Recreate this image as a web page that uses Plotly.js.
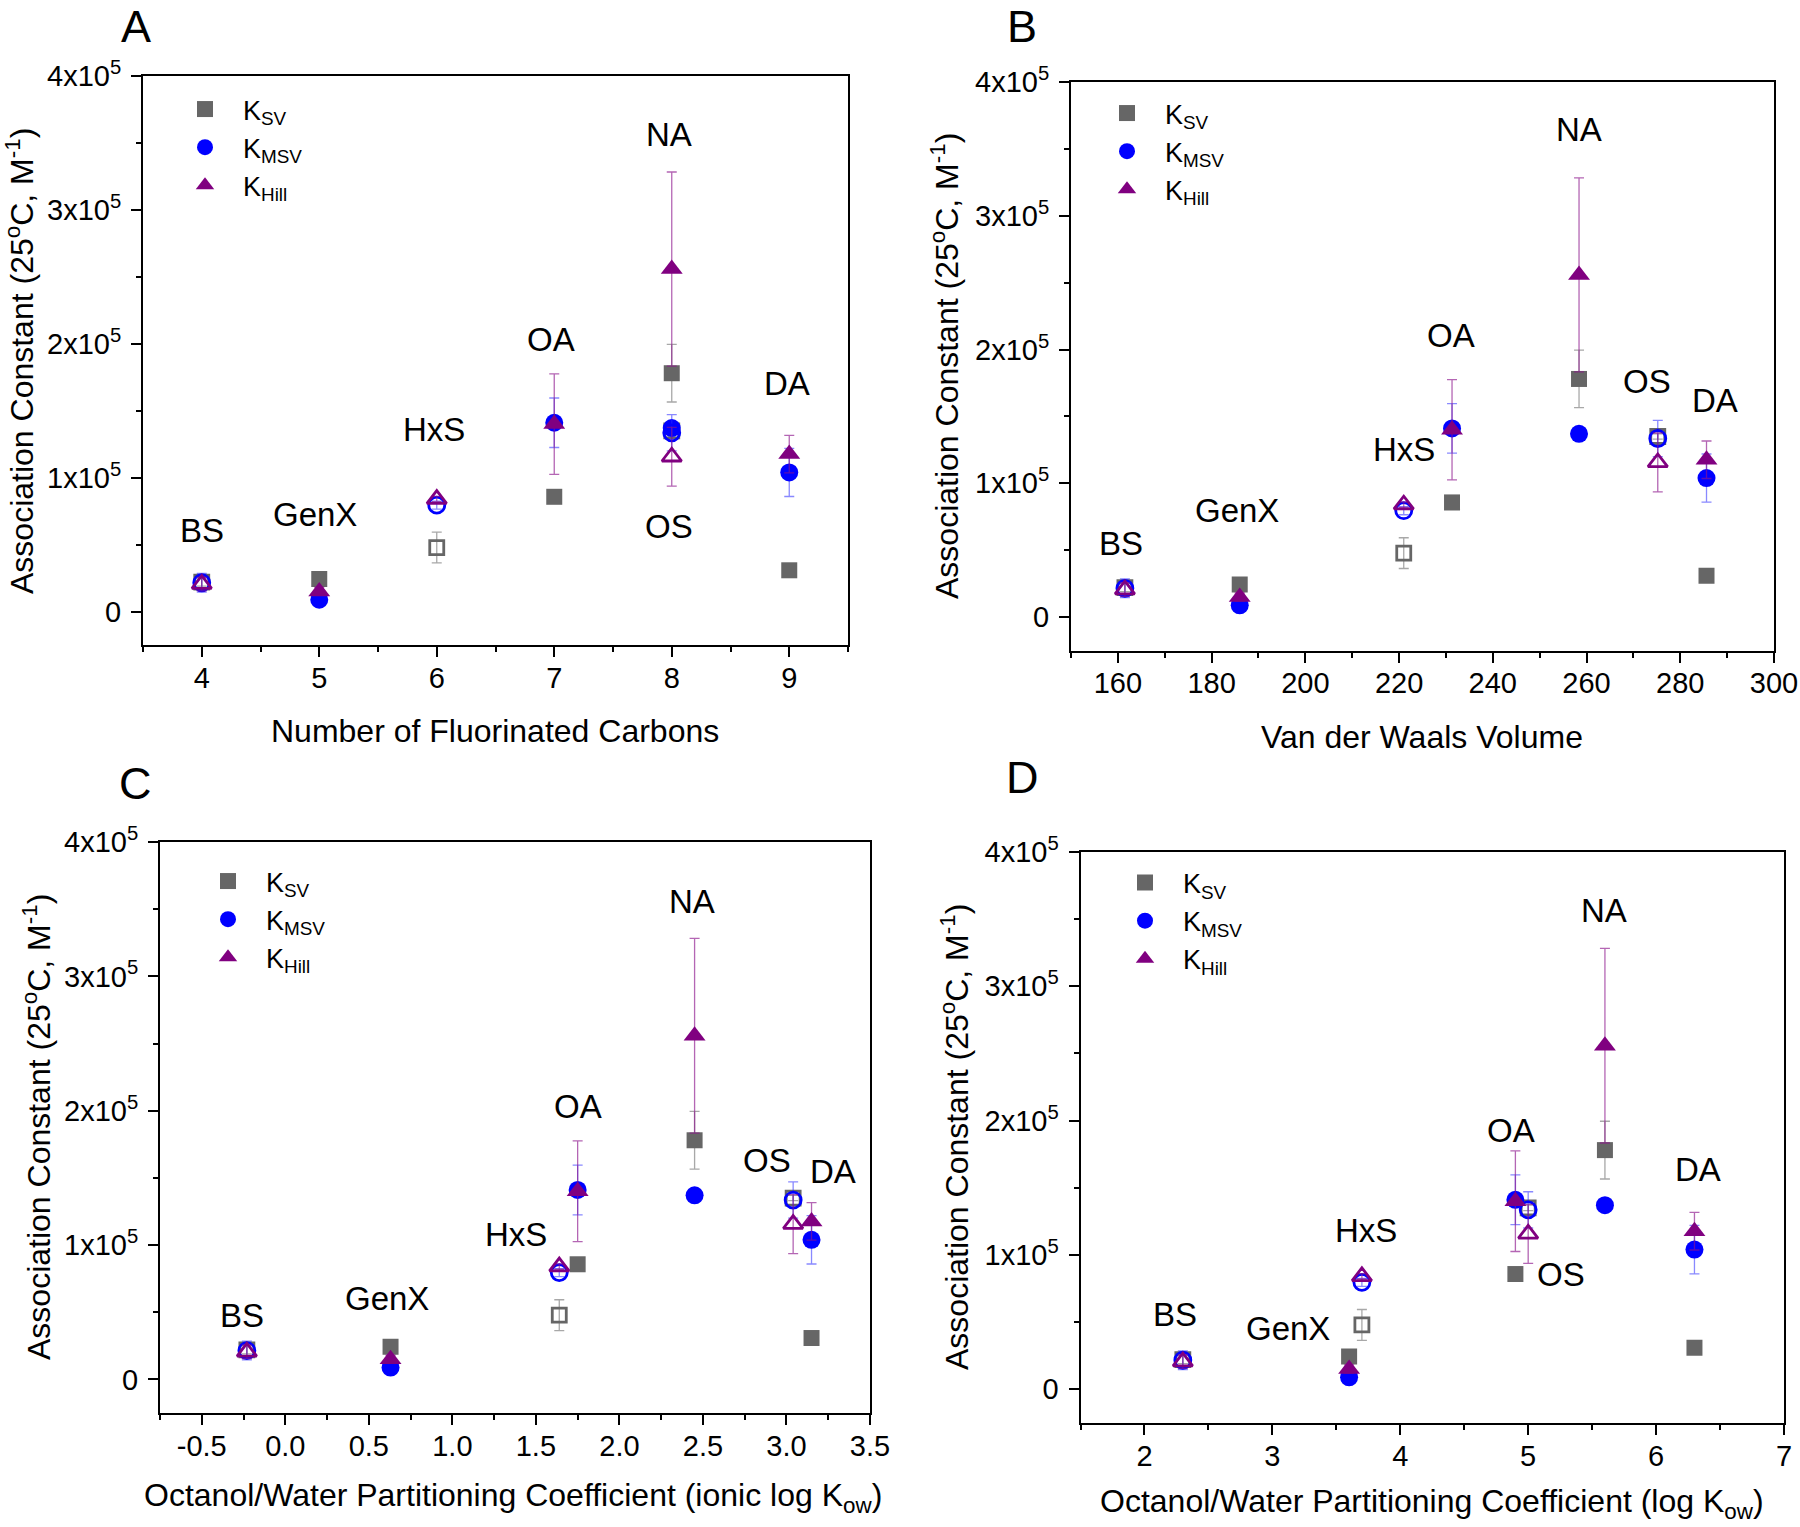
<!DOCTYPE html>
<html><head><meta charset="utf-8">
<script src="https://cdn.plot.ly/plotly-3.0.1.min.js"></script>
<style>html,body{margin:0;padding:0;background:#fff}#chart{width:1800px;height:1527px}</style>
</head><body><div id="chart"></div>
<script>
// ---------- data ----------
const compounds = ['BS','GenX','HxS','OA','NA','OS','DA'];
const isSulfonate = [true,false,true,false,false,true,false];
const xFluorinatedCarbons = [4,5,6,7,8,8,9];
const xVdwVolume = [161.5,186,221,231.3,258.4,275.2,285.6];
const xIonicLogKow = [-0.23,0.63,1.64,1.75,2.45,3.04,3.15];
const xLogKow = [2.3,3.6,3.7,4.9,5.6,5.0,6.3];
const kSV = [22000,24300,47800,85700,178000,135000,30800];
const kSVErr = [3000,1000,11500,1000,21500,2000,1000];
const kMSV = [21500,8800,79500,141000,137000,133500,103900];
const kMSVErr = [7000,1000,3000,18500,1000,13500,18000];
const kHill = [20500,15000,84000,140000,255800,115600,117600];
const kHillErr = [5000,3000,2000,37500,72500,22000,14000];
const yTickVals = [0,100000,200000,300000,400000];
const yTickText = ['0','1x10<sup>5</sup>','2x10<sup>5</sup>','3x10<sup>5</sup>','4x10<sup>5</sup>'];
const xTickValsC = [-0.5,0,0.5,1,1.5,2,2.5,3,3.5];
const xTickTextC = ['-0.5','0.0','0.5','1.0','1.5','2.0','2.5','3.0','3.5'];
const xTitles = ['Number of Fluorinated Carbons','Van der Waals Volume',
  'Octanol/Water Partitioning Coefficient (ionic log K<sub>ow</sub>)',
  'Octanol/Water Partitioning Coefficient (log K<sub>ow</sub>)'];
const yTitle = 'Association Constant (25<sup>o</sup>C, M<sup>-1</sup>)';
const panelLetters = ['A','B','C','D'];

// ---------- layout config ----------
const W = 1800, H = 1527;
const FONT = 'Liberation Sans, Arial, Helvetica, sans-serif';
const panels = [
  {xs: xFluorinatedCarbons, box:[143,848,76,645], range:[3.5,9.5], tick0:4, dtick:1, mtick0:3.5, mdtick:0.5,
   letter:[136,26], ytitle:[20,361], xtitle:[495,731], legend:[205,109],
   labels:{BS:[4,60500],GenX:[4.96,72400],HxS:[5.98,135800],OA:[6.97,203000],NA:[7.98,356000],OS:[7.98,63300],DA:[8.98,170000]}},
  {xs: xVdwVolume, box:[1071,1774,82,650.5], range:[150,300], tick0:160, dtick:20, mtick0:150, mdtick:10,
   letter:[1022,26], ytitle:[945,366], xtitle:[1422,737], legend:[1127,113],
   labels:{BS:[160.6,54700],GenX:[185.5,80000],HxS:[221,125500],OA:[231.1,210700],NA:[258.3,364500],OS:[272.8,176200],DA:[287.4,162000]}},
  {xs: xIonicLogKow, box:[160,870,842,1413], range:[-0.75,3.5], tickvals:xTickValsC, ticktext:xTickTextC, mtick0:-0.75, mdtick:0.25,
   letter:[135,784], ytitle:[37,1127], xtitle:[513,1497], legend:[228,881],
   labels:{BS:[-0.26,47600],GenX:[0.61,60000],HxS:[1.38,108200],OA:[1.75,203000],NA:[2.435,356000],OS:[2.885,162700],DA:[3.28,154400]}},
  {xs: xLogKow, box:[1080.5,1784,852,1422.7], range:[1.5,7], tick0:2, dtick:1, mtick0:1.5, mdtick:0.5,
   letter:[1022,777], ytitle:[955,1137], xtitle:[1432,1503], legend:[1145,882.5],
   labels:{BS:[2.24,55300],GenX:[3.12,45200],HxS:[3.73,118400],OA:[4.865,192400],NA:[5.595,356700],OS:[5.26,85200],DA:[6.33,163200]}}
];
const series = [
  {name:'K<sub>SV</sub>', y:kSV, err:kSVErr, sym:'square', color:'#666666', errColor:'rgba(110,110,110,0.6)', size:16},
  {name:'K<sub>MSV</sub>', y:kMSV, err:kMSVErr, sym:'circle', color:'#0000FF', errColor:'rgba(40,40,255,0.55)', size:18},
  {name:'K<sub>Hill</sub>', y:kHill, err:kHillErr, sym:'triangle-up', color:'#800080', errColor:'rgba(140,20,140,0.65)', size:19}
];

const traces = [];
const layout = {
  width: W, height: H, margin:{l:0,r:0,t:0,b:0}, paper_bgcolor:'#fff', plot_bgcolor:'#fff',
  font:{family:FONT, color:'#000'}, annotations:[]
};

panels.forEach((p, i) => {
  const n = i === 0 ? '' : String(i+1);
  const xa = 'x'+n, ya = 'y'+n;
  const legendId = 'legend'+n;
  series.forEach(s => {
    [false, true].forEach(open => {
      const idx = compounds.map((c,k)=>k).filter(k => isSulfonate[k] === open);
      traces.push({
        type:'scatter', mode:'markers', xaxis:xa, yaxis:ya, legend:legendId,
        name:s.name, showlegend:!open, hoverinfo:'skip',
        x: idx.map(k=>p.xs[k]), y: idx.map(k=>s.y[k]),
        error_y:{type:'data', array: idx.map(k=>s.err[k]), color:s.errColor, thickness:1.3, width:5},
        marker: open
          ? {symbol:s.sym+'-open', size:s.size-2, color:s.color, line:{color:s.color, width:2.8}}
          : {symbol:s.sym, size:s.size, color:s.color, line:{width:0}}
      });
    });
  });
  const [x0,x1,yt,yb] = p.box;
  const common = {showline:true, linewidth:2, linecolor:'#000', mirror:true, showgrid:false, zeroline:false,
    ticks:'outside', ticklen:10, tickwidth:2, tickcolor:'#000', tickfont:{family:FONT, size:29, color:'#000'}};
  const xaxis = Object.assign({}, common, {
    domain:[x0/W, x1/W], range:p.range, anchor:ya, ticklabelstandoff:-4,
    minor:{tickmode:'linear', tick0:p.mtick0, dtick:p.mdtick, ticks:'outside', ticklen:5, tickwidth:2, tickcolor:'#000'}
  });
  if (p.tickvals) { xaxis.tickmode='array'; xaxis.tickvals=p.tickvals; xaxis.ticktext=p.ticktext; }
  else { xaxis.tickmode='linear'; xaxis.tick0=p.tick0; xaxis.dtick=p.dtick; }
  const yaxis = Object.assign({}, common, {
    domain:[1-yb/H, 1-yt/H], range:[-25000,400000], anchor:xa, ticklabelstandoff:4,
    tickmode:'array', tickvals:yTickVals, ticktext:yTickText,
    minor:{tickmode:'linear', tick0:0, dtick:50000, ticks:'outside', ticklen:5, tickwidth:2, tickcolor:'#000'}
  });
  layout['xaxis'+n] = xaxis;
  layout['yaxis'+n] = yaxis;
  layout[legendId] = {
    x:(p.legend[0]-38)/W, y:1-(p.legend[1]-24)/H, xanchor:'left', yanchor:'top',
    xref:'paper', yref:'paper', bgcolor:'rgba(0,0,0,0)', borderwidth:0,
    font:{family:FONT, size:27, color:'#000'}, itemwidth:66, tracegroupgap:0
  };
  compounds.forEach(c => {
    const pos = p.labels[c];
    layout.annotations.push({xref:xa, yref:ya, x:pos[0], y:pos[1], text:c, showarrow:false,
      xanchor:'center', yanchor:'middle', font:{family:FONT, size:33, color:'#000'}});
  });
  layout.annotations.push({xref:'paper', yref:'paper', x:p.letter[0]/W, y:1-p.letter[1]/H, text:panelLetters[i],
    showarrow:false, xanchor:'center', yanchor:'middle', font:{family:FONT, size:45, color:'#000'}});
  layout.annotations.push({xref:'paper', yref:'paper', x:p.xtitle[0]/W, y:1-p.xtitle[1]/H, text:xTitles[i],
    showarrow:false, xanchor:'center', yanchor:'middle', font:{family:FONT, size:32, color:'#000'}});
  layout.annotations.push({xref:'paper', yref:'paper', x:p.ytitle[0]/W, y:1-p.ytitle[1]/H, text:yTitle,
    textangle:-90, showarrow:false, xanchor:'center', yanchor:'middle', font:{family:FONT, size:32, color:'#000'}});
});

Plotly.newPlot('chart', traces, layout, {displayModeBar:false, staticPlot:true});
</script>
</body></html>
